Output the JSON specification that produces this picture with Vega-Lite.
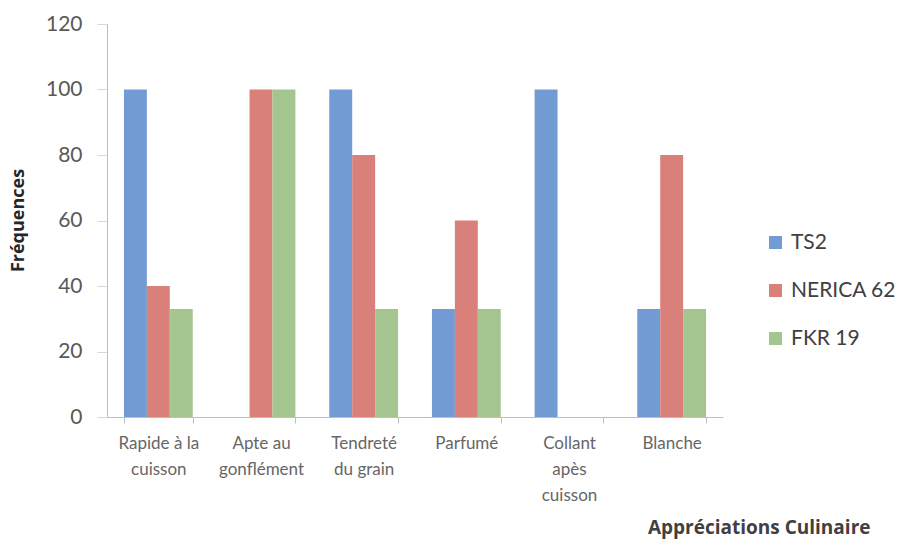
{
  "$schema": "https://vega.github.io/schema/vega-lite/v6.json",
  "autosize": "none",
  "width": 616,
  "height": 393,
  "padding": {"left": 107, "top": 24, "right": 178, "bottom": 132},
  "background": "white",
  "config": {"view": {"stroke": null}, "font": "Lato"},
  "data": {
    "values": [
      {"cat": "Rapide à la|cuisson", "variete": "TS2", "freq": 100},
      {"cat": "Rapide à la|cuisson", "variete": "NERICA 62", "freq": 40},
      {"cat": "Rapide à la|cuisson", "variete": "FKR 19", "freq": 33},
      {"cat": "Apte au|gonflément", "variete": "TS2", "freq": 0},
      {"cat": "Apte au|gonflément", "variete": "NERICA 62", "freq": 100},
      {"cat": "Apte au|gonflément", "variete": "FKR 19", "freq": 100},
      {"cat": "Tendreté|du grain", "variete": "TS2", "freq": 100},
      {"cat": "Tendreté|du grain", "variete": "NERICA 62", "freq": 80},
      {"cat": "Tendreté|du grain", "variete": "FKR 19", "freq": 33},
      {"cat": "Parfumé", "variete": "TS2", "freq": 33},
      {"cat": "Parfumé", "variete": "NERICA 62", "freq": 60},
      {"cat": "Parfumé", "variete": "FKR 19", "freq": 33},
      {"cat": "Collant|apès|cuisson", "variete": "TS2", "freq": 100},
      {"cat": "Collant|apès|cuisson", "variete": "NERICA 62", "freq": 0},
      {"cat": "Collant|apès|cuisson", "variete": "FKR 19", "freq": 0},
      {"cat": "Blanche", "variete": "TS2", "freq": 33},
      {"cat": "Blanche", "variete": "NERICA 62", "freq": 80},
      {"cat": "Blanche", "variete": "FKR 19", "freq": 33}
    ]
  },
  "mark": {"type": "bar"},
  "encoding": {
    "x": {
      "field": "cat",
      "type": "nominal",
      "sort": null,
      "scale": {"paddingInner": 0.33, "paddingOuter": 0.165},
      "axis": {
        "title": "Appréciations Culinaire",
        "titleFont": "Open Sans",
        "titleFontSize": 19,
        "titleFontWeight": "bold",
        "titleColor": "#404040",
        "titleAlign": "right",
        "titleBaseline": "middle",
        "titleX": 763,
        "titleY": 110,
        "labelAngle": 0,
        "labelExpr": "split(datum.label, '|')",
        "labelFontSize": 17,
        "labelColor": "#666666",
        "labelLineHeight": 26,
        "labelPadding": 12,
        "labelBaseline": "top",
        "tickBand": "extent",
        "tickSize": 6,
        "tickColor": "#bfbfbf",
        "domainColor": "#bfbfbf",
        "grid": false
      }
    },
    "xOffset": {
      "field": "variete",
      "type": "nominal",
      "sort": ["TS2", "NERICA 62", "FKR 19"],
      "scale": {"paddingInner": 0, "paddingOuter": 0}
    },
    "y": {
      "field": "freq",
      "type": "quantitative",
      "scale": {"domain": [0, 120], "nice": false},
      "axis": {
        "values": [0, 20, 40, 60, 80, 100, 120],
        "title": "Fréquences",
        "titleFont": "Open Sans",
        "titleFontSize": 18,
        "titleFontWeight": "bold",
        "titleColor": "#262626",
        "titleAngle": -90,
        "titleAlign": "center",
        "titleBaseline": "middle",
        "titleX": -89,
        "titleY": 196,
        "labelFontSize": 21,
        "labelColor": "#595959",
        "labelPadding": 15,
        "tickSize": 10,
        "tickColor": "#d9d9d9",
        "domainColor": "#bfbfbf",
        "grid": false
      }
    },
    "color": {
      "field": "variete",
      "type": "nominal",
      "sort": ["TS2", "NERICA 62", "FKR 19"],
      "scale": {"domain": ["TS2", "NERICA 62", "FKR 19"], "range": ["#729bd4", "#d9807a", "#a5c590"]},
      "legend": {
        "title": null,
        "orient": "none",
        "legendX": 658,
        "legendY": 208,
        "symbolType": "square",
        "symbolSize": 169,
        "symbolStrokeWidth": 0,
        "labelFontSize": 21,
        "labelColor": "#404040",
        "labelOffset": 5,
        "rowPadding": 26
      }
    }
  }
}
